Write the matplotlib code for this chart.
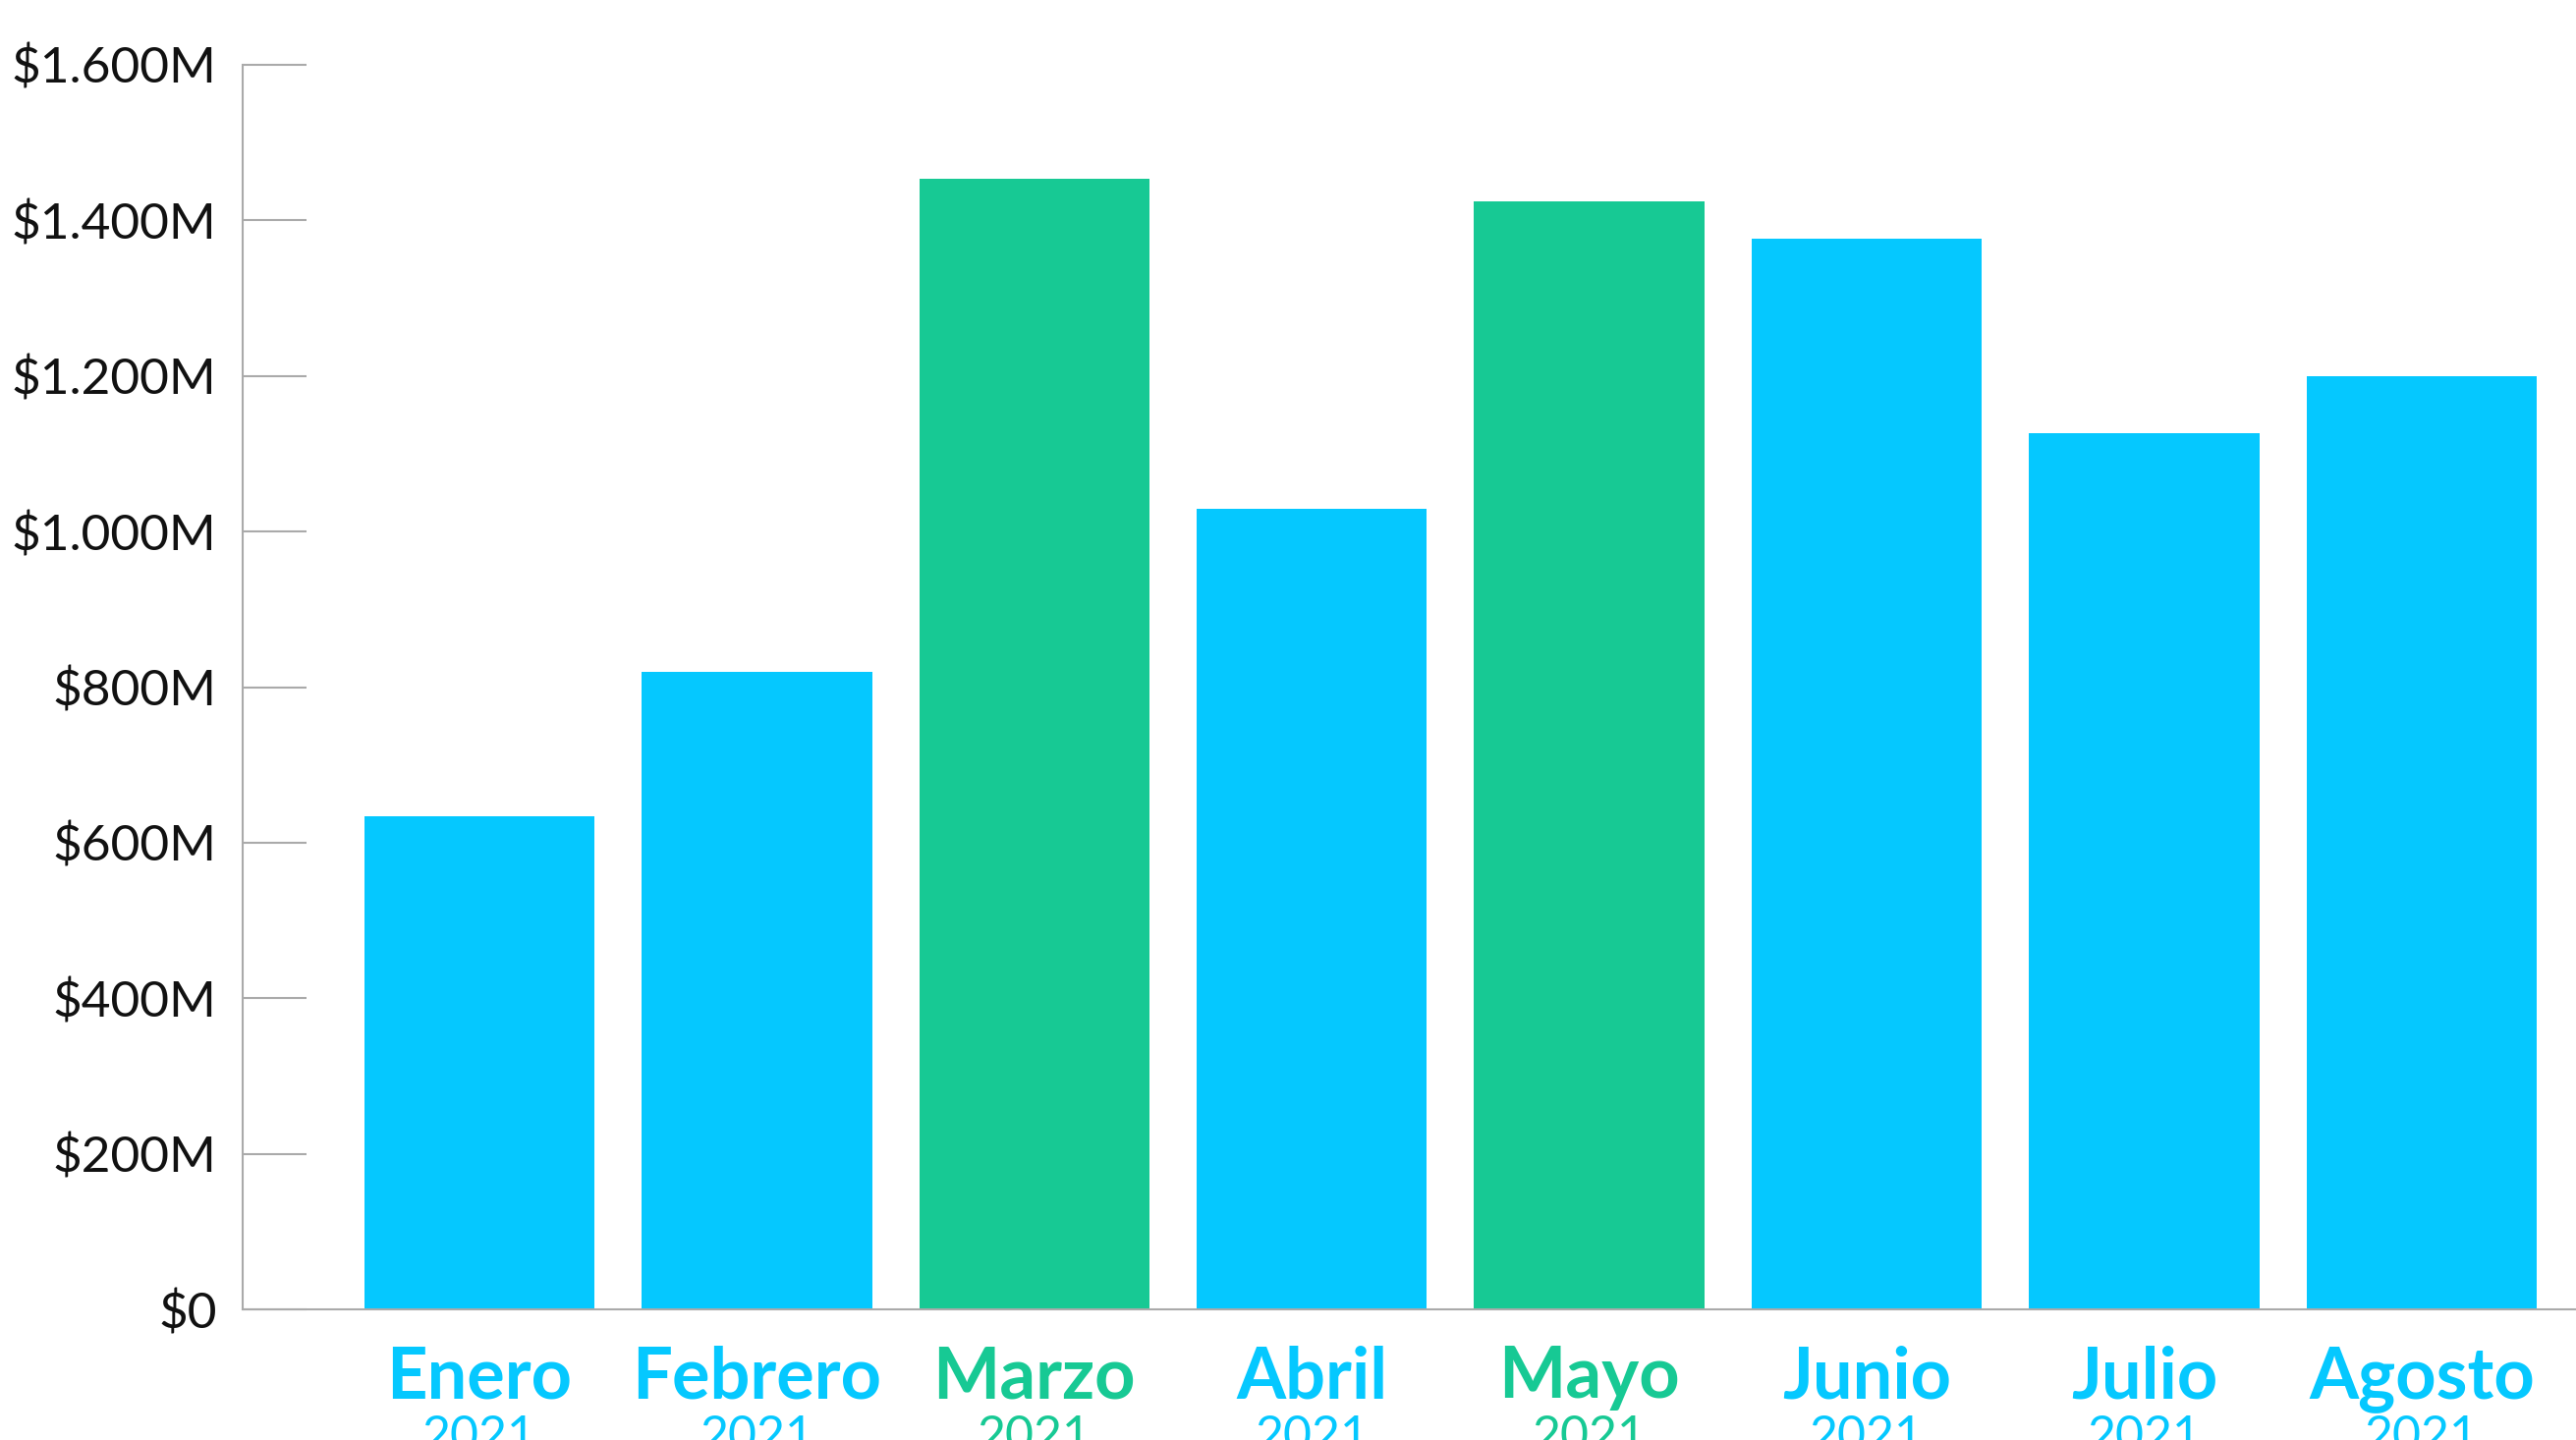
import matplotlib
matplotlib.use('Agg')
import matplotlib.pyplot as plt
from matplotlib.ticker import FuncFormatter

meses = ['Enero', 'Febrero', 'Marzo', 'Abril', 'Mayo', 'Junio', 'Julio', 'Agosto']
anios = ['2021'] * 8
ventas = [634, 820, 1453, 1029, 1424, 1377, 1126, 1200]  # millones
destacado = [False, False, True, False, True, False, False, False]

azul = '#05C8FF'
verde = '#17C994'
gris = '#aaaaaa'
colores = [verde if d else azul for d in destacado]

plt.rcParams['font.family'] = ['Lato', 'DejaVu Sans']

fig = plt.figure(figsize=(26.22, 14.66), dpi=100)
ax = fig.add_axes([0.0942, 0.0907, 0.9058, 0.8643])

x = list(range(len(meses)))
ax.bar(x, ventas, width=0.83, color=colores, zorder=2)

ax.set_xlim(-0.853, 7.556)
ax.set_ylim(0, 1600)
ax.set_yticks(range(0, 1601, 200))


def fmt(v, pos):
    if v == 0:
        return '$0'
    return '$' + format(int(v), ',').replace(',', '.') + 'M'


ax.yaxis.set_major_formatter(FuncFormatter(fmt))
ax.tick_params(axis='y', direction='in', length=47, width=1.5, color=gris,
               pad=19, labelsize=37, labelcolor='#111111')
ax.set_xticks([])

for s in ['top', 'right']:
    ax.spines[s].set_visible(False)
for s in ['left', 'bottom']:
    ax.spines[s].set_color(gris)
    ax.spines[s].set_linewidth(1.5)

# etiquetas de mes y año
for i in x:
    ax.annotate(meses[i], xy=(i, 0), xycoords=('data', 'axes fraction'),
                xytext=(0, -65), textcoords='offset points',
                ha='center', va='baseline', fontsize=52, fontweight='bold',
                color=colores[i], annotation_clip=False)
    ax.annotate(anios[i], xy=(i, 0), xycoords=('data', 'axes fraction'),
                xytext=(0, -77), textcoords='offset points',
                ha='center', va='top', fontsize=36,
                color=colores[i], annotation_clip=False)

fig.savefig('out.png', dpi=100)
